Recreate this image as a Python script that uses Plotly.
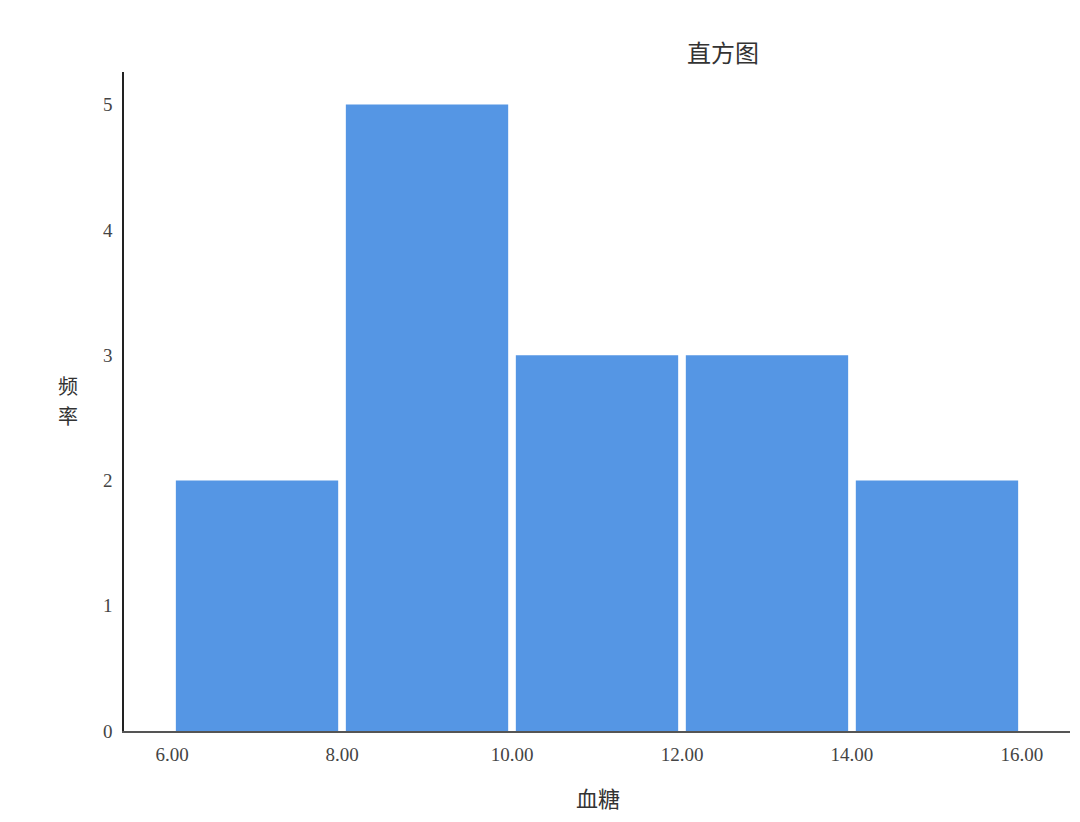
import plotly.graph_objects as go

# histogram of blood sugar, bins of width 2
bin_edges = [6, 8, 10, 12, 14, 16]
counts = [2, 5, 3, 3, 2]
tick_vals = [6, 8, 10, 12, 14, 16]
tick_text = ["6.00", "8.00", "10.00", "12.00", "14.00", "16.00"]

bar_color = '#5596E4'
cjk_font = "Noto Sans CJK SC"
num_font = "Liberation Serif"
text_color = '#333333'

centers = [(a + b) / 2 for a, b in zip(bin_edges[:-1], bin_edges[1:])]

fig = go.Figure(go.Bar(
    x=centers, y=counts, width=1.91,
    marker=dict(color=bar_color, line=dict(width=0)),
    hoverinfo='skip'
))


def label(text, x, y, size):
    return dict(text=text, xref='paper', yref='paper', x=x, y=y,
                xanchor='center', yanchor='middle', showarrow=False,
                font=dict(family=cjk_font, size=size, color=text_color))


fig.update_layout(
    # page body has an 8px margin, so the figure is a bit smaller than the window
    width=1064, height=806,
    margin=dict(l=116, r=2, t=64, b=83),
    paper_bgcolor='white', plot_bgcolor='white',
    showlegend=False,
    xaxis=dict(
        range=[5.435, 16.565], tickvals=tick_vals, ticktext=tick_text,
        showgrid=False, zeroline=False, showline=True, linecolor='#555555', linewidth=1.5,
        ticks='', ticklabelstandoff=5,
        tickfont=dict(family=num_font, size=19, color='#444444'),
    ),
    yaxis=dict(
        range=[0, 5.26], tickvals=[0, 1, 2, 3, 4, 5],
        showgrid=False, zeroline=False, showline=True, linecolor='#222222', linewidth=1.5,
        ticks='', ticklabelstandoff=6,
        tickfont=dict(family=num_font, size=19, color='#444444'),
    ),
    annotations=[
        label("直方图", 0.633, 1.0318, 24),
        label("频", -0.0592, 0.525, 20),
        label("率", -0.0592, 0.4795, 20),
        label("血糖", 0.501, -0.1, 22),
    ],
)

fig.write_html("out.html")
